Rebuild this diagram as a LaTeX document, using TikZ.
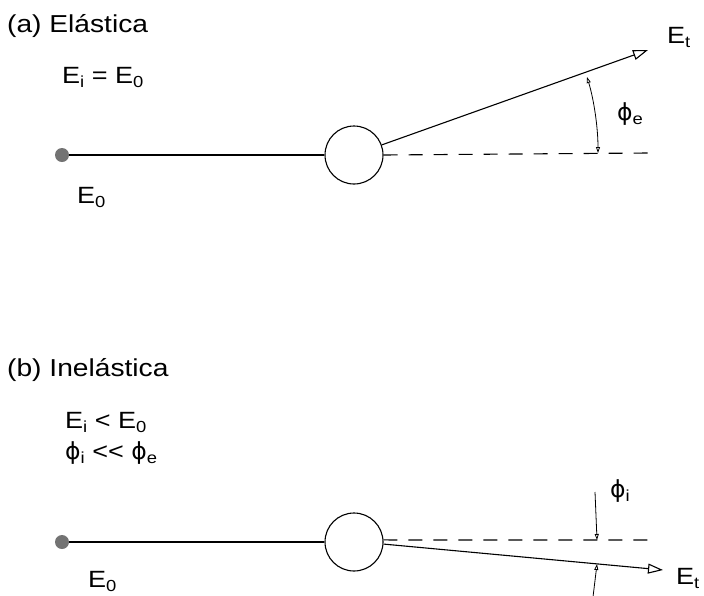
\documentclass[tikz,border=0pt]{standalone}
\usepackage{fontspec}
\setmainfont{Liberation Sans}[FakeStretch=1.15]
\newfontfamily\phifont{DejaVu Sans}
\usetikzlibrary{arrows.meta}
\newcommand\sbx[1]{\raisebox{-0.2em}{\fontsize{16}{16}\selectfont #1}}
\newcommand\phisym{{\phifont ϕ}}
\begin{document}
\begin{tikzpicture}[x=1pt,y=-1pt,
  txt/.style={anchor=base west,inner sep=0pt,font=\fontsize{23.5}{26}\selectfont},
  ttl/.style={anchor=base west,inner sep=0pt,font=\fontsize{24.5}{28}\selectfont},
  dotn/.style={circle,fill=black!55,minimum size=14pt,inner sep=0pt},
  targ/.style={circle,draw,line width=1.1pt,minimum size=58pt,inner sep=0pt},
  beam/.style={line width=1.1pt},
  outarr/.style={line width=1.1pt,-{Triangle[open,length=15pt,width=10pt]}},
  dsh/.style={line width=1.1pt,dash pattern=on 14pt off 11pt},
  ang/.style={line width=0.8pt,{Triangle[open,length=6pt,width=4pt]}-{Triangle[open,length=6pt,width=4pt]}},
  angs/.style={line width=0.8pt,-{Triangle[open,length=6pt,width=4pt]}}]
\useasboundingbox (0,0) rectangle (704,595);
% (a)
\node[ttl] (ta) at (7,32) {(a) Elástica};
\node[txt] (ea) at (62,83) {E\sbx{i} = E\sbx{0}};
\node[dotn] (d1) at (62,155) {};
\node[targ] (c1) at (354,155) {};
\node[txt] (e0a) at (77,203) {E\sbx{0}};
\coordinate (t1) at (648,50);
\coordinate (h1) at (648,153);
\draw[beam] (d1) -- (c1);
\draw[outarr] (c1.20) -- (t1);
\draw[dsh] (c1.east) -- (h1);
\coordinate (a1s) at (587,77);
\coordinate (a1e) at (598,153);
\draw[ang] (a1s) .. controls (594,100) and (598,128) .. (a1e);
\node[txt] (eta) at (667,43) {E\sbx{t}};
\node[txt] (pe) at (617,120) {\phisym\sbx{e}};
% (b)
\node[ttl] (tb) at (7,376) {(b) Inelástica};
\node[txt] (eb) at (65,428) {E\sbx{i} < E\sbx{0}};
\node[txt] (pb) at (65,459) {\phisym\sbx{i} <{}< \phisym\sbx{e}};
\node[dotn] (d2) at (62,542) {};
\node[targ] (c2) at (354,542) {};
\node[txt] (e0b) at (88,587) {E\sbx{0}};
\coordinate (t2) at (663,570);
\coordinate (h2) at (648,540);
\draw[beam] (d2) -- (c2);
\draw[outarr] (c2.-4) -- (t2);
\draw[dsh] (c2.4) -- (h2);
\coordinate (b1s) at (595,492);
\coordinate (b1e) at (597,540);
\coordinate (b2s) at (593,597);
\coordinate (b2e) at (597,564);
\draw[angs] (b1s) -- (b1e);
\draw[angs] (b2s) -- (b2e);
\node[txt] (etb) at (676,584) {E\sbx{t}};
\node[txt] (pi) at (610,497) {\phisym\sbx{i}};
\end{tikzpicture}
\end{document}
